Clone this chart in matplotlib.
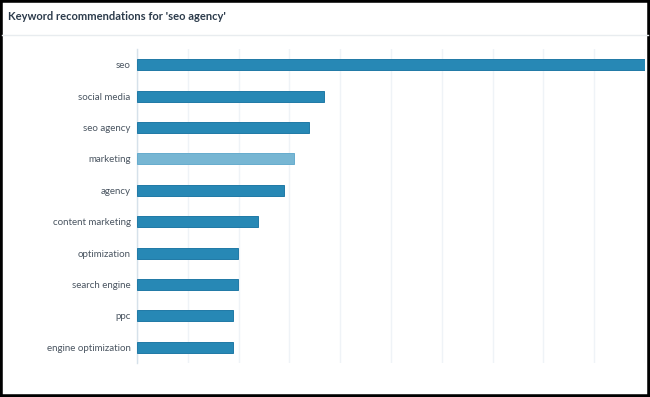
import matplotlib
matplotlib.use("Agg")
import matplotlib.pyplot as plt
from matplotlib.patches import Rectangle
from matplotlib.lines import Line2D

categories = ["seo", "social media", "seo agency", "marketing", "agency",
              "content marketing", "optimization", "search engine", "ppc",
              "engine optimization"]
values = [100, 36.8, 33.9, 30.9, 29, 23.9, 19.8, 19.8, 18.9, 18.9]
highlight = "marketing"
title = "Keyword recommendations for 'seo agency'"

plt.rcParams['font.family'] = ['Lato', 'DejaVu Sans']

W, H = 650, 397
fig = plt.figure(figsize=(W / 100, H / 100), dpi=100)
fig.patch.set_facecolor("white")

# axes area in pixels
left, right, top, bottom = 137, 645, 49, 363
ax = fig.add_axes([left / W, 1 - bottom / H, (right - left) / W, (bottom - top) / H])

colors = ["#77b6d3" if c == highlight else "#2788b5" for c in categories]
edges = ["#66acce" if c == highlight else "#2079a6" for c in categories]
y = list(range(len(categories)))
ax.barh(y, values, height=0.35, color=colors, edgecolor=edges, linewidth=0.7, zorder=3)
ax.set_ylim(len(categories) - 0.5, -0.5)
ax.set_xlim(0, 100)
ax.set_xticks(range(0, 101, 10))
ax.set_xticklabels([])
ax.tick_params(axis="x", length=0)
ax.grid(axis="x", color="#eff3f7", linewidth=1, zorder=0)
ax.set_yticks(y)
ax.set_yticklabels(categories, fontsize=7.05, color="#4a5561")
ax.tick_params(axis="y", length=0, pad=4.5)
for s in ["top", "right", "bottom"]:
    ax.spines[s].set_visible(False)
ax.spines["left"].set_color("#d6e1ea")
ax.spines["left"].set_linewidth(1)

# title
fig.text(8 / W, 1 - 17 / H, title, fontsize=8.0, fontweight="bold",
         color="#2c3b4b", ha="left", va="center")
# separator
fig.add_artist(Line2D([2 / W, 1 - 2 / W], [1 - 34.5 / H, 1 - 34.5 / H],
                      color="#e8ecef", linewidth=1, transform=fig.transFigure))
# black frame
fig.add_artist(Rectangle((0, 0), 1, 1, transform=fig.transFigure, fill=False,
                         edgecolor="black", linewidth=4))

fig.savefig("out.png", dpi=100, facecolor="white")
